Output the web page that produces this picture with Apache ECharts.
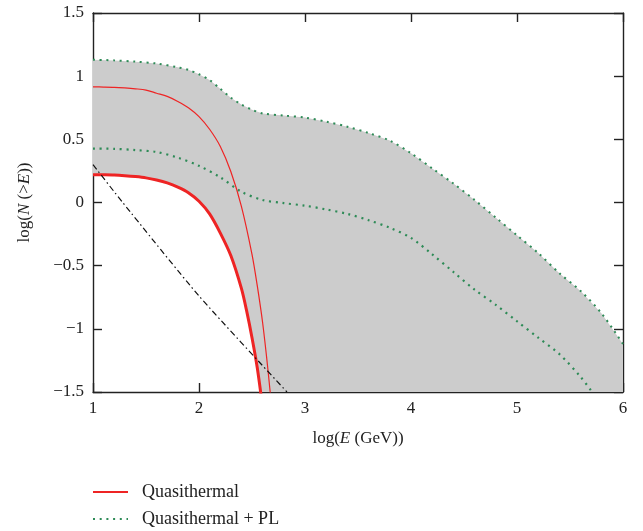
<!DOCTYPE html>
<html>
<head>
<meta charset="utf-8">
<script src="https://cdn.jsdelivr.net/npm/echarts@6/dist/echarts.min.js"></script>
<style>
  html, body { margin: 0; padding: 0; background: #fff; }
  #chart { width: 643px; height: 531px; }
</style>
</head>
<body>
<div id="chart"></div>
<script>
// thick "Quasithermal" curve (lower bound), log(E) vs log(N>E)
const qtLowX = [1.0, 1.1, 1.2, 1.3, 1.4, 1.5, 1.6, 1.7, 1.8, 1.9, 2.0, 2.1, 2.2, 2.3, 2.4, 2.45, 2.5, 2.55, 2.6];
const qtLowY = [0.22, 0.219, 0.217, 0.212, 0.205, 0.195, 0.178, 0.155, 0.122, 0.078, 0.01, -0.09, -0.24, -0.42, -0.68, -0.86, -1.07, -1.31, -1.62];

// thin "Quasithermal" curve (upper bound)
const qtHighX = [1.0, 1.1, 1.2, 1.3, 1.4, 1.5, 1.6, 1.7, 1.8, 1.9, 2.0, 2.1, 2.2, 2.3, 2.4, 2.5, 2.55, 2.6, 2.65, 2.7];
const qtHighY = [0.915, 0.914, 0.912, 0.907, 0.90, 0.89, 0.865, 0.84, 0.80, 0.75, 0.68, 0.58, 0.445, 0.245, -0.03, -0.41, -0.66, -0.95, -1.32, -1.75];

// upper dotted "Quasithermal + PL" curve, also the top of the grey band
const plHighX = [1.0, 1.2, 1.4, 1.6, 1.8, 1.9, 2.0, 2.1, 2.2, 2.3, 2.4, 2.5, 2.6, 2.8, 3.0,
                 3.2, 3.4, 3.6, 3.8, 4.0, 4.2, 4.4, 4.6, 4.8, 5.0, 5.2, 5.4, 5.6, 5.8, 6.0];
const plHighY = [1.13, 1.125, 1.115, 1.10, 1.07, 1.05, 1.015, 0.97, 0.90, 0.83, 0.775, 0.735, 0.705, 0.688, 0.672,
                 0.64, 0.60, 0.55, 0.49, 0.39, 0.27, 0.15, 0.02, -0.12, -0.26, -0.40, -0.56, -0.70, -0.88, -1.12];

// lower dotted "Quasithermal + PL" curve
const plLowX = [1.0, 1.2, 1.4, 1.6, 1.8, 2.0, 2.2, 2.4, 2.6, 2.8, 3.0, 3.2, 3.4, 3.6, 3.8,
                4.0, 4.2, 4.4, 4.6, 4.8, 5.0, 5.2, 5.4, 5.6, 5.7];
const plLowY = [0.427, 0.425, 0.415, 0.40, 0.355, 0.29, 0.20, 0.085, 0.02, -0.005, -0.025, -0.055, -0.09, -0.14, -0.20,
                -0.28, -0.41, -0.55, -0.69, -0.81, -0.94, -1.07, -1.20, -1.38, -1.49];

// dash-dot power law
const powX = [1.0, 1.28, 2.0, 2.83];
const powY = [0.30, 0.0, -0.74, -1.5];

// the band continues below the frame once the thick curve leaves it
const bandFloorX = [2.6, 6.0];
const bandFloorY = [-1.62, -1.62];

const xTicks = [1, 2, 3, 4, 5, 6];
const yTicks = [-1.5, -1, -0.5, 0, 0.5, 1, 1.5];

const pairs = (xs, ys) => xs.map((x, i) => [x, ys[i]]);

const FONT = "'Liberation Serif', 'DejaVu Serif', serif";
const RED = "#ee2424";
const GREEN = "#2e8b57";
const SMOOTH = 0.3;
const fmtMinus = (v) => String(v).replace("-", "\u2212");

const chart = echarts.init(document.getElementById("chart"));

const frameAxis = {
  type: "value",
  axisLine: { show: true, onZero: false, lineStyle: { color: "#222", width: 1.4 } },
  axisTick: { show: true, inside: true, length: 9, lineStyle: { color: "#222", width: 1.4 } },
  splitLine: { show: false },
};

const legendBase = {
  orient: "vertical",
  left: 87,
  itemWidth: 35,
  itemHeight: 14,
  itemStyle: { opacity: 0 },
  textStyle: { fontFamily: FONT, fontSize: 18, color: "#222", padding: [0, 0, 0, 9] },
};

// grey band: upper dotted curve, then back along the thick red curve and the floor
function renderBand(params, api) {
  const top = pairs(plHighX, plHighY);
  const bottom = pairs(qtLowX, qtLowY).concat(pairs(bandFloorX, bandFloorY)).reverse();
  const points = top.concat(bottom).map((p) => api.coord(p));
  return {
    type: "polygon",
    shape: { points },
    style: { fill: "#cccccc", stroke: null },
  };
}

const option = {
  animation: false,
  grid: { left: 93, right: 20, top: 13, bottom: 139 },
  legend: [
    { ...legendBase, top: 478, data: ["Quasithermal"] },
    { ...legendBase, top: 505, data: ["Quasithermal + PL"] },
  ],
  xAxis: [
    {
      ...frameAxis,
      min: 1,
      max: 6,
      interval: 1,
      axisLabel: { fontFamily: FONT, fontSize: 17, color: "#222", margin: 8,
        formatter: (v) => (xTicks.includes(v) ? String(v) : "") },
      name: "log({i|E} (GeV))",
      nameLocation: "middle",
      nameGap: 38,
      nameTextStyle: { fontFamily: FONT, fontSize: 17, color: "#222",
        rich: { i: { fontFamily: FONT, fontSize: 17, fontStyle: "italic", color: "#222" } } },
    },
    {
      ...frameAxis,
      position: "top",
      min: 1,
      max: 6,
      interval: 1,
      axisLabel: { show: false },
    },
  ],
  yAxis: [
    {
      ...frameAxis,
      min: -1.5,
      max: 1.5,
      interval: 0.5,
      axisLabel: { fontFamily: FONT, fontSize: 17, color: "#222", margin: 9,
        formatter: (v) => (yTicks.includes(v) ? fmtMinus(v) : "") },
      name: "log({i|N} (>{i|E}))",
      nameLocation: "middle",
      nameGap: 60,
      nameRotate: 90,
      nameTextStyle: { fontFamily: FONT, fontSize: 17, color: "#222",
        rich: { i: { fontFamily: FONT, fontSize: 17, fontStyle: "italic", color: "#222" } } },
    },
    {
      ...frameAxis,
      position: "right",
      min: -1.5,
      max: 1.5,
      interval: 0.5,
      axisLabel: { show: false },
    },
  ],
  series: [
    {
      name: "band",
      type: "custom",
      renderItem: renderBand,
      data: [[1, 0]],
      clip: true,
      silent: true,
      z: 1,
    },
    {
      name: "Quasithermal",
      type: "line",
      data: pairs(qtLowX, qtLowY),
      symbol: "none",
      smooth: SMOOTH,
      lineStyle: { color: RED, width: 3 },
      itemStyle: { color: RED },
      z: 3,
    },
    {
      name: "Quasithermal",
      type: "line",
      data: pairs(qtHighX, qtHighY),
      symbol: "none",
      smooth: SMOOTH,
      lineStyle: { color: RED, width: 1.2 },
      itemStyle: { color: RED },
      z: 3,
    },
    {
      name: "Quasithermal + PL",
      type: "line",
      data: pairs(plHighX, plHighY),
      symbol: "none",
      smooth: SMOOTH,
      lineStyle: { color: GREEN, width: 2, type: [2, 4.7] },
      itemStyle: { color: GREEN },
      z: 3,
    },
    {
      name: "Quasithermal + PL",
      type: "line",
      data: pairs(plLowX, plLowY),
      symbol: "none",
      smooth: SMOOTH,
      lineStyle: { color: GREEN, width: 2.2, type: [2, 4.7] },
      itemStyle: { color: GREEN },
      z: 3,
    },
    {
      name: "power law",
      type: "line",
      data: pairs(powX, powY),
      symbol: "none",
      smooth: 0.2,
      lineStyle: { color: "#111", width: 1.2, type: [6, 3, 1.5, 3] },
      itemStyle: { color: "#111" },
      z: 3,
    },
  ],
};

chart.setOption(option);
</script>
</body>
</html>
